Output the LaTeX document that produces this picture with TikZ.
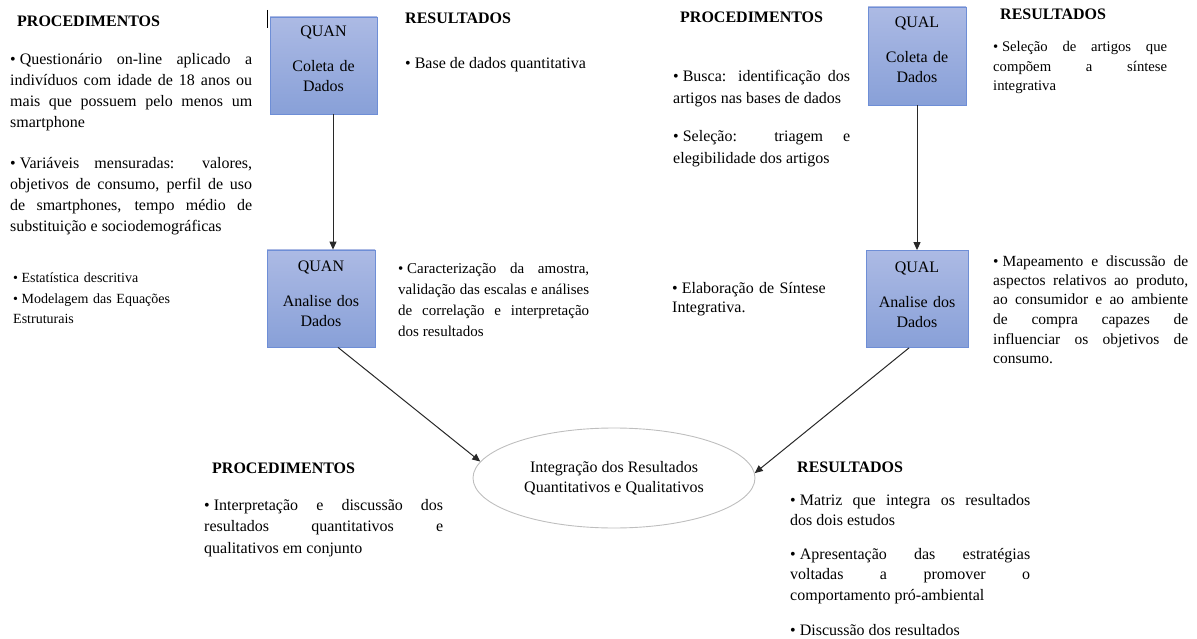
\documentclass[tikz,border=0pt]{standalone}
\usepackage{fontspec}
\setmainfont{Liberation Serif}
\usetikzlibrary{arrows.meta, shapes.geometric, positioning}
\definecolor{boxtop}{RGB}{172,186,228}
\definecolor{boxbot}{RGB}{136,160,216}
\definecolor{boxline}{RGB}{110,142,214}
\definecolor{ovalline}{RGB}{190,190,190}
\definecolor{arrowdark}{RGB}{40,40,40}
\hyphenpenalty=10000
\exhyphenpenalty=10000
\tolerance=10000
\newcommand{\bul}{\textbullet\hspace{0.25em}}
\tikzset{
  stagebox/.style={
    draw=boxline, line width=0.8pt,
    top color=boxtop, bottom color=boxbot,
    minimum height=97pt, inner sep=0pt
  },
  stagetext/.style={
    anchor=base, inner sep=0pt, text width=100pt, align=center,
    font=\fontsize{16}{20}\selectfont
  },
  ovalbox/.style={
    ellipse, draw=ovalline, line width=0.9pt,
    minimum width=282pt, minimum height=100pt,
    inner sep=0pt, align=center,
    font=\fontsize{16}{20}\selectfont
  },
  headtext/.style={
    anchor=base west, inner sep=0pt,
    font=\fontsize{16}{19}\selectfont\bfseries
  },
  bodytext/.style={
    anchor=base west, inner sep=0pt, align=justify,
    font=\fontsize{16}{21}\selectfont
  },
  flowarrow/.style={
    -{Triangle[length=8pt,width=7pt]},
    draw=arrowdark, line width=1pt
  },
}

\begin{document}
\begin{tikzpicture}[x=1pt, y=-1pt]
    \useasboundingbox (0,0) rectangle (1197,639);

    %% QUAN column
    \node[stagebox, minimum width=107pt] (qnC) at (323.5,65.5) {};
    \node[stagetext] (qnCt) at ([yshift=-20pt]qnC.north) {QUAN\\[15pt]Coleta de\\Dados};
    \node[stagebox, minimum width=108pt] (qnA) at (321,298.5) {};
    \node[stagetext] (qnAt) at ([yshift=-22pt]qnA.north) {QUAN\\[15pt]Analise dos\\Dados};
    \draw[line width=1pt] (267,10) -- (267,28);

    %% QUAL column
    \node[stagebox, minimum width=98pt, minimum height=98pt] (qlC) at (917,56) {};
    \node[stagetext] (qlCt) at ([yshift=-21pt]qlC.north) {QUAL\\[15pt]Coleta de\\Dados};
    \node[stagebox, minimum width=102pt] (qlA) at (917,299) {};
    \node[stagetext] (qlAt) at ([yshift=-22pt]qlA.north) {QUAL\\[15pt]Analise dos\\Dados};

    %% Integration
    \node[ovalbox] (integ) at (614,478)
      {Integração dos Resultados\\Quantitativos e Qualitativos};

    \draw[flowarrow] ([xshift=9.5pt]qnC.south) -- ([xshift=12pt]qnA.north);
    \draw[flowarrow] (qlC.south) -- (qlA.north);
    \draw[flowarrow] ([xshift=17pt]qnA.south) -- (integ.173);
    \draw[flowarrow] ([xshift=-8pt]qlA.south) -- (integ.2);

    %% QUAN texts
    \node[headtext] (qnProc) at (17,27) {PROCEDIMENTOS};
    \node[bodytext, text width=242pt] (qnP1) at (10,65)
      {\bul Questionário on-line aplicado a\linebreak indivíduos com idade de 18 anos ou\linebreak mais que possuem pelo menos um\linebreak smartphone};
    \node[bodytext, text width=242pt] (qnP2) at (10,169)
      {\bul Variáveis mensuradas: valores,\linebreak objetivos de consumo, perfil de uso\linebreak de smartphones, tempo médio de\linebreak substituição e sociodemográficas};
    \node[bodytext, align=left, text width=230pt, font=\fontsize{14}{21}\selectfont] (qnP3) at (13,282)
      {\bul Estatística descritiva\\\bul Modelagem das Equações\\Estruturais};
    \node[headtext] (qnRes) at (405,24) {RESULTADOS};
    \node[bodytext, text width=200pt] (qnR1) at (405,69) {\bul Base de dados quantitativa};
    \node[bodytext, text width=191pt, font=\fontsize{15}{21.3}\selectfont] (qnR2) at (398,273)
      {\bul Caracterização da amostra,\linebreak validação das escalas e análises\linebreak de correlação e interpretação\linebreak dos resultados};

    %% QUAL texts
    \node[headtext] (qlProc) at (680,23) {PROCEDIMENTOS};
    \node[bodytext, text width=177pt, font=\fontsize{16}{22}\selectfont] (qlP1) at (673,82)
      {\bul Busca: identificação dos\linebreak artigos nas bases de dados};
    \node[bodytext, text width=177pt, font=\fontsize{16}{22}\selectfont] (qlP2) at (673,142)
      {\bul Seleção: triagem e\linebreak elegibilidade dos artigos};
    \node[bodytext, align=left, text width=180pt, font=\fontsize{16}{20}\selectfont] (qlP3) at (672,293)
      {\bul Elaboração de Síntese\\Integrativa.};
    \node[headtext] (qlRes) at (1000,20) {RESULTADOS};
    \node[bodytext, text width=174pt, font=\fontsize{14.7}{19.5}\selectfont] (qlR1) at (993,52)
      {\bul Seleção de artigos que\linebreak compõem a síntese\linebreak integrativa};
    \node[bodytext, text width=195pt, font=\fontsize{15.5}{19.5}\selectfont] (qlR2) at (993,266)
      {\bul Mapeamento e discussão de\linebreak aspectos relativos ao produto,\linebreak ao consumidor e ao ambiente\linebreak de compra capazes de\linebreak influenciar os objetivos de\linebreak consumo.};

    %% Integration texts
    \node[headtext] (inProc) at (212,473) {PROCEDIMENTOS};
    \node[bodytext, text width=239pt, font=\fontsize{16}{21.5}\selectfont] (inP1) at (204,510)
      {\bul Interpretação e discussão dos\linebreak resultados quantitativos e\linebreak qualitativos em conjunto};
    \node[headtext] (inRes) at (797,472) {RESULTADOS};
    \node[bodytext, text width=240pt, font=\fontsize{16}{20.5}\selectfont] (inR1) at (790,505)
      {\bul Matriz que integra os resultados\linebreak dos dois estudos};
    \node[bodytext, text width=240pt, font=\fontsize{16}{20.5}\selectfont] (inR2) at (790,559)
      {\bul Apresentação das estratégias\linebreak voltadas a promover o\linebreak comportamento pró-ambiental};
    \node[bodytext, text width=240pt] (inR3) at (790,635) {\bul Discussão dos resultados};
\end{tikzpicture}
\end{document}
